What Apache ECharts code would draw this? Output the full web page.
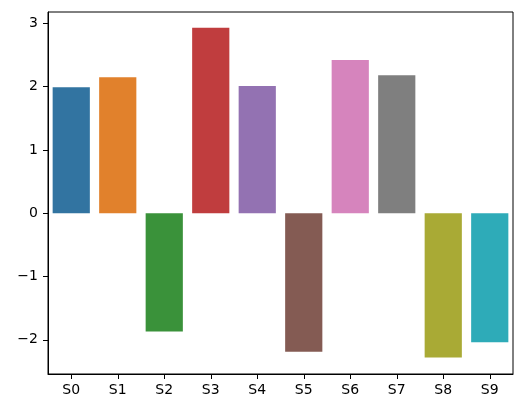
<!DOCTYPE html>
<html>
<head>
<meta charset="utf-8">
<script src="https://cdn.jsdelivr.net/npm/echarts@6/dist/echarts.min.js"></script>
<style>
  html, body { margin: 0; padding: 0; background: #fff; }
  #chart { width: 525px; height: 416px; }
</style>
</head>
<body>
<div id="chart"></div>
<script>
// chart data
const categories = ["S0", "S1", "S2", "S3", "S4", "S5", "S6", "S7", "S8", "S9"];
const values = [1.99, 2.15, -1.87, 2.93, 2.01, -2.19, 2.42, 2.18, -2.28, -2.04];
const barColors = ["#3274a1", "#e1812c", "#3a923a", "#c03d3e", "#9372b2",
                   "#845b53", "#d684bd", "#7f7f7f", "#a9aa35", "#2eabb8"];
const yTicks = [-2, -1, 0, 1, 2, 3];
const yMin = -2.54;
const yMax = 3.18;

const chart = echarts.init(document.getElementById("chart"), null, { renderer: "canvas" });

const font = "DejaVu Sans";

chart.setOption({
  animation: false,
  backgroundColor: "#ffffff",
  grid: {
    left: 48, right: 12, top: 12, bottom: 42,
    show: true, borderColor: "#000", borderWidth: 1, backgroundColor: "transparent"
  },
  xAxis: {
    type: "category",
    data: categories,
    axisLine: { show: true, onZero: false, lineStyle: { color: "#000", width: 1 } },
    axisTick: { show: true, alignWithLabel: true, length: 5, lineStyle: { color: "#000" } },
    axisLabel: { color: "#000", fontFamily: font, fontSize: 14, margin: 9 },
    splitLine: { show: false }
  },
  yAxis: {
    type: "value",
    min: yMin,
    max: yMax,
    axisLine: { show: true, lineStyle: { color: "#000", width: 1 } },
    axisTick: { show: true, length: 5, customValues: yTicks, lineStyle: { color: "#000" } },
    axisLabel: {
      color: "#000", fontFamily: font, fontSize: 14, margin: 10,
      customValues: yTicks,
      formatter: v => String(v).replace("-", "\u2212")
    },
    splitLine: { show: false }
  },
  series: [{
    type: "bar",
    data: values.map((v, i) => ({ value: v, itemStyle: { color: barColors[i] } })),
    barCategoryGap: "20%"
  }]
});
</script>
</body>
</html>
